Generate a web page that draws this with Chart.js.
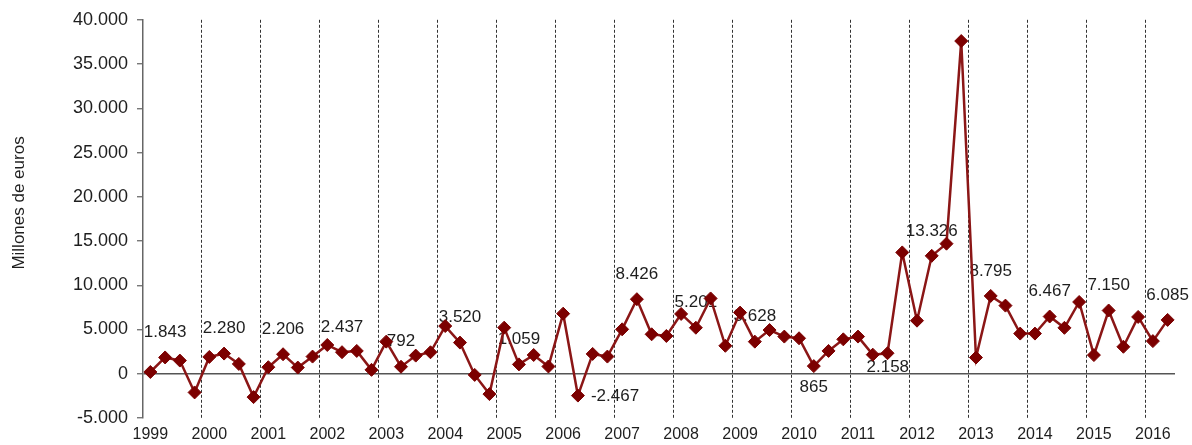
<!DOCTYPE html>
<html>
<head>
<meta charset="utf-8">
<script src="https://cdn.jsdelivr.net/npm/chart.js@4/dist/chart.umd.min.js"></script>
<style>
  html, body { margin: 0; padding: 0; background: #ffffff; }
  #wrap { width: 1192px; height: 445px; }
</style>
</head>
<body>
<div id="wrap"><canvas id="c" width="1192" height="445"></canvas></div>
<script>
// ---- data ----
const years = [1999, 2000, 2001, 2002, 2003, 2004, 2005, 2006, 2007, 2008,
               2009, 2010, 2011, 2012, 2013, 2014, 2015, 2016];
const quarters = ['T1', 'T2', 'T3', 'T4'];
// quarterly values, millones de euros (1999 T1 .. 2016 T2)
const values = [
    200,  1843,  1490, -2110,   // 1999
   1900,  2280,  1110, -2640,   // 2000
    740,  2206,   700,  1940,   // 2001
   3250,  2437,  2580,   440,   // 2002
   3630,   792,  2050,  2430,   // 2003
   5390,  3520,  -130, -2300,   // 2004
   5210,  1059,  2120,   820,   // 2005
   6790, -2467,  2240,  1940,   // 2006
   5020,  8426,  4460,  4270,   // 2007
   6760,  5201,  8510,  3160,   // 2008
   6910,  3628,  4940,  4200,   // 2009
   4010,   865,  2580,  3890,   // 2010
   4200,  2158,  2320, 13710,   // 2011
   6000, 13326, 14700, 37600,   // 2012
   1830,  8795,  7700,  4540,   // 2013
   4540,  6467,  5190,  8110,   // 2014
   2110,  7150,  3050,  6420,   // 2015
   3690,  6085                  // 2016
];
const yTicks = [-5000, 0, 5000, 10000, 15000, 20000, 25000, 30000, 35000, 40000];
const yTitle = 'Millones de euros';
// value labels are shown for the second quarter (T2) of every year
const labelQuarter = 'T2';
// placement of the labels (style only), by year
const labelPlacement = { 2006: 'right', 2010: 'below', 2011: 'belowRight' };

// ---- derived ----
const categories = [];
years.forEach(y => quarters.forEach(q => categories.push(y + ' ' + q)));
categories.length = values.length;

function fmt(v) {
  const s = Math.abs(Math.round(v)).toString().replace(/\B(?=(\d{3})+(?!\d))/g, '.');
  return (v < 0 ? '-' : '') + s;
}

const FONT = "'Liberation Sans', Arial, sans-serif";
const TXT = '#1e1e1e';

const valueLabels = {
  id: 'valueLabels',
  beforeDatasetsDraw(chart) {
    const ctx = chart.ctx;
    const meta = chart.getDatasetMeta(0);
    ctx.save();
    ctx.font = '17px ' + FONT;
    ctx.fillStyle = TXT;
    ctx.textBaseline = 'middle';
    categories.forEach((cat, i) => {
      const [yr, q] = cat.split(' ');
      if (q !== labelQuarter) return;
      const pt = meta.data[i];
      const txt = fmt(values[i]);
      const place = labelPlacement[yr] || 'above';
      let x = pt.x, y = pt.y - 25, align = 'center';
      if (place === 'right') { x = pt.x + 13; y = pt.y + 1; align = 'left'; }
      else if (place === 'below') { y = pt.y + 21; }
      else if (place === 'belowRight') { x = pt.x + 15; y = pt.y + 13; }
      ctx.textAlign = align;
      ctx.fillText(txt, x, y);
    });
    ctx.restore();
  },
  afterDraw(chart) {
    // vertical axis title, left of the y tick labels
    const ctx = chart.ctx;
    const a = chart.chartArea;
    ctx.save();
    ctx.font = '17px ' + FONT;
    ctx.fillStyle = TXT;
    ctx.textAlign = 'center';
    ctx.textBaseline = 'middle';
    ctx.translate(19, a.top + (a.bottom - a.top) * 0.46);
    ctx.rotate(-Math.PI / 2);
    ctx.fillText(yTitle, 0, 0);
    ctx.restore();
  }
};

new Chart(document.getElementById('c'), {
  type: 'line',
  data: {
    labels: categories,
    datasets: [{
      data: values,
      borderColor: '#8b1616',
      borderWidth: 2.5,
      pointStyle: 'rectRot',
      pointRadius: 6.5,
      pointBorderWidth: 1,
      pointBackgroundColor: '#7c0000',
      pointBorderColor: '#7c0000',
      tension: 0,
      fill: false,
      clip: false
    }]
  },
  options: {
    responsive: false,
    animation: false,
    events: [],
    layout: { padding: { top: 18, right: 17, left: 0, bottom: 0 } },
    plugins: { legend: { display: false }, tooltip: { enabled: false }, title: { display: false } },
    scales: {
      x: {
        type: 'category',
        offset: true,
        afterFit(scale) { scale.height = 27; },
        grid: {
          offset: true,
          drawTicks: false,
          lineWidth: 1,
          color: (c) => (c.index !== undefined && c.index > 0 && c.index % 4 === 0) ? '#333333' : 'rgba(0,0,0,0)'
        },
        border: { display: false, dash: [3, 2] },
        ticks: {
          autoSkip: false,
          maxRotation: 0,
          minRotation: 0,
          padding: 7,
          color: TXT,
          font: { family: FONT, size: 16 },
          callback: function (v, i) { return i % 4 === 0 ? categories[i].split(' ')[0] : ''; }
        }
      },
      y: {
        min: -5000,
        max: 40000,
        afterFit(scale) { scale.width = 143; },
        afterBuildTicks(scale) { scale.ticks = yTicks.map(v => ({ value: v })); },
        grid: {
          drawTicks: true,
          tickLength: 6,
          tickColor: '#606060',
          tickWidth: 1.2,
          lineWidth: 1.5,
          color: (c) => (c.tick && c.tick.value === 0) ? '#555555' : 'rgba(0,0,0,0)'
        },
        border: { display: true, color: '#666666', width: 1.5 },
        ticks: {
          padding: 9,
          color: TXT,
          font: { family: FONT, size: 18 },
          callback: (v) => fmt(v)
        },
        title: { display: false }
      }
    }
  },
  plugins: [valueLabels]
});
</script>
</body>
</html>
